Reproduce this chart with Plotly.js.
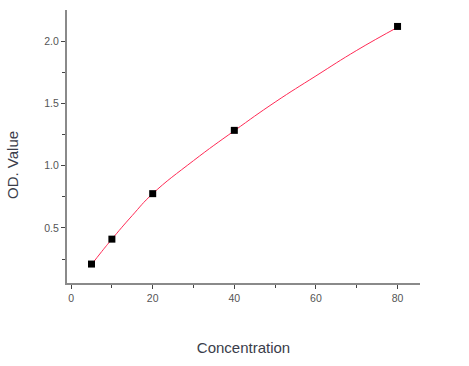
<!DOCTYPE html>
<html>
<head>
<meta charset="utf-8">
<script src="https://cdn.plot.ly/plotly-3.0.1.min.js"></script>
<style>html,body{margin:0;padding:0;background:#fff;}#chart{width:469px;height:366px;}</style>
</head>
<body>
<div id="chart"></div>
<script>
// Measured standards
var concentration = [5, 10, 20, 40, 80];
var odValue = [0.21, 0.41, 0.775, 1.283, 2.117];

// Fitted curve
var fitConcentration = [5, 7.5, 10, 15, 20, 30, 40, 50, 60, 70, 80];
var fitOD = [0.205, 0.31, 0.41, 0.60, 0.775, 1.04, 1.28, 1.51, 1.72, 1.925, 2.11];

var xTicks = [0, 20, 40, 60, 80];
var yTicks = [0.5, 1.0, 1.5, 2.0];
var yTickText = ['0.5', '1.0', '1.5', '2.0'];

var fitTrace = {
  x: fitConcentration, y: fitOD, type: 'scatter', mode: 'lines',
  line: {color: '#ff2a55', width: 1, shape: 'spline', smoothing: 1.3},
  hoverinfo: 'skip', showlegend: false
};
var pointTrace = {
  x: concentration, y: odValue, type: 'scatter', mode: 'markers',
  marker: {symbol: 'square', size: 7, color: '#000000', line: {width: 0}},
  showlegend: false
};

var axisFont = {family: 'Liberation Sans, Arial, sans-serif', size: 10.5, color: '#555555'};
var titleFont = {family: 'Liberation Sans, Arial, sans-serif', size: 15, color: '#3a3d4a'};

var layout = {
  width: 469, height: 366,
  margin: {l: 67, r: 49, t: 10, b: 83},
  paper_bgcolor: '#ffffff', plot_bgcolor: '#ffffff',
  showlegend: false,
  xaxis: {
    range: [-1, 85.5], tickvals: xTicks, ticktext: xTicks.map(String),
    showgrid: false, zeroline: false, showline: true, linecolor: '#8a8a8a', linewidth: 2,
    ticks: 'outside', ticklen: 4, tickwidth: 1, tickcolor: '#444',
    minor: {tickvals: [10, 30, 50, 70], ticks: 'outside', ticklen: 3, tickcolor: '#444', showgrid: false},
    tickfont: axisFont,
    title: {text: 'Concentration', font: titleFont, standoff: 40},
    automargin: false, fixedrange: true
  },
  yaxis: {
    range: [0.058, 2.249], tickvals: yTicks, ticktext: yTickText,
    showgrid: false, zeroline: false, showline: true, linecolor: '#8a8a8a', linewidth: 2,
    ticks: 'outside', ticklen: 4, tickwidth: 1, tickcolor: '#444',
    minor: {tickvals: [0.25, 0.75, 1.25, 1.75], ticks: 'outside', ticklen: 3, tickcolor: '#444', showgrid: false},
    tickfont: axisFont,
    automargin: false, fixedrange: true
  },
  annotations: [{
    text: 'OD. Value', xref: 'paper', yref: 'paper',
    x: -0.156, y: 0.432, xanchor: 'center', yanchor: 'middle',
    textangle: -90, showarrow: false, font: titleFont
  }]
};

Plotly.newPlot('chart', [fitTrace, pointTrace], layout, {displayModeBar: false, staticPlot: true});
</script>
</body>
</html>
